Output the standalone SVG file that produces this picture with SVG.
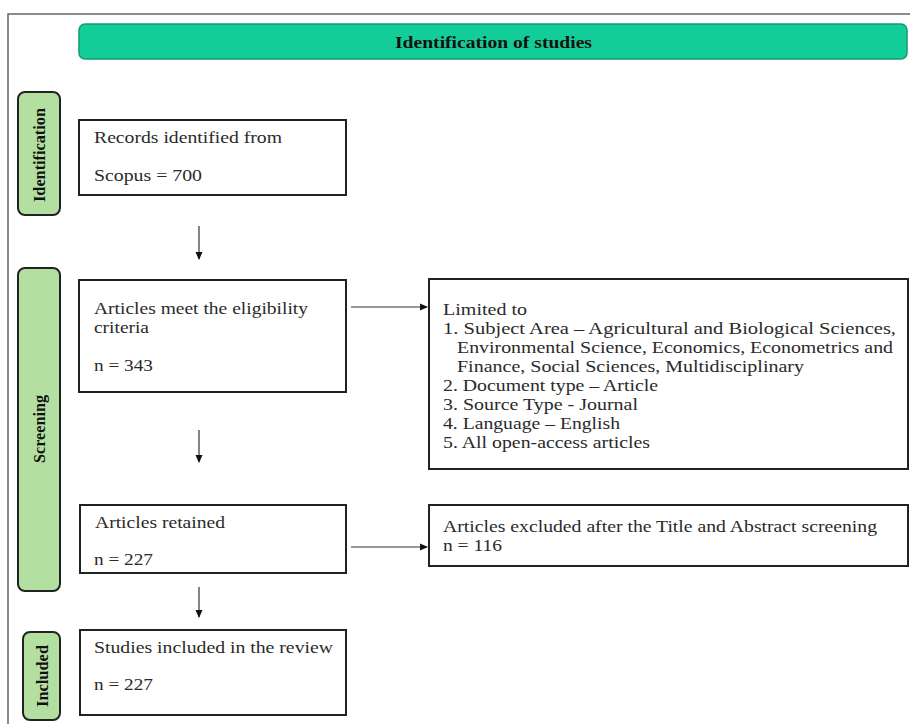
<svg xmlns="http://www.w3.org/2000/svg" width="910" height="724" viewBox="0 0 910 724">
<defs>
<marker id="ah" markerWidth="8" markerHeight="8" refX="7" refY="4" orient="auto" markerUnits="userSpaceOnUse">
<path d="M0,0.5 L8,4 L0,7.5 Z" fill="#111"/>
</marker>
<style>
.box{fill:#fff;stroke:#222;stroke-width:2}
.side{fill:#b3e0a0;stroke:#222;stroke-width:2}
.t{font-family:"Liberation Serif","Times New Roman",serif;font-size:17px;fill:#2a2a2a}
.s{font-family:"Liberation Serif","Times New Roman",serif;font-size:16px;font-weight:bold;fill:#111}
.c{stroke:#333;stroke-width:1.2;fill:none;marker-end:url(#ah)}
</style>
</defs>
<rect width="910" height="724" fill="#fff"/>
<path d="M8,724 V14 H910" fill="none" stroke="#666" stroke-width="1.5"/>
<g id="title">
<rect x="79" y="24" width="828" height="35" rx="6" fill="#13cd99" stroke="#0e9c74" stroke-width="1.5"/>
<text class="s" x="395" y="48" textLength="197" lengthAdjust="spacingAndGlyphs">Identification of studies</text>
</g>
<g id="side-identification">
<rect class="side" x="18" y="92" width="42" height="123" rx="7"/>
<text class="s" transform="translate(45,155) rotate(-90)" text-anchor="middle" textLength="94" lengthAdjust="spacingAndGlyphs">Identification</text>
</g>
<g id="side-screening">
<rect class="side" x="18" y="268" width="42" height="323" rx="7"/>
<text class="s" transform="translate(45,429) rotate(-90)" text-anchor="middle" textLength="68" lengthAdjust="spacingAndGlyphs">Screening</text>
</g>
<g id="side-included">
<rect class="side" x="23" y="632" width="37" height="88" rx="7"/>
<text class="s" transform="translate(48,676) rotate(-90)" text-anchor="middle" textLength="62" lengthAdjust="spacingAndGlyphs">Included</text>
</g>
<g id="records">
<rect class="box" x="79" y="120" width="267" height="75"/>
<text class="t" x="94" y="143" textLength="188" lengthAdjust="spacingAndGlyphs">Records identified from</text>
<text class="t" x="94" y="181" textLength="108" lengthAdjust="spacingAndGlyphs">Scopus = 700</text>
</g>
<g id="eligible">
<rect class="box" x="79" y="280" width="267" height="112"/>
<text class="t" x="94" y="314" textLength="214" lengthAdjust="spacingAndGlyphs">Articles meet the eligibility</text>
<text class="t" x="94" y="333" textLength="55" lengthAdjust="spacingAndGlyphs">criteria</text>
<text class="t" x="94" y="371" textLength="59" lengthAdjust="spacingAndGlyphs">n = 343</text>
</g>
<g id="limited">
<rect class="box" x="429" y="279" width="479" height="190"/>
<text class="t" x="443" y="315" textLength="84" lengthAdjust="spacingAndGlyphs">Limited to</text>
<text class="t" x="443" y="334" textLength="453" lengthAdjust="spacingAndGlyphs">1. Subject Area – Agricultural and Biological Sciences,</text>
<text class="t" x="457" y="353" textLength="436" lengthAdjust="spacingAndGlyphs">Environmental Science, Economics, Econometrics and</text>
<text class="t" x="457" y="372" textLength="347" lengthAdjust="spacingAndGlyphs">Finance, Social Sciences, Multidisciplinary</text>
<text class="t" x="443" y="391" textLength="215" lengthAdjust="spacingAndGlyphs">2. Document type – Article</text>
<text class="t" x="443" y="410" textLength="195" lengthAdjust="spacingAndGlyphs">3. Source Type - Journal</text>
<text class="t" x="443" y="429" textLength="177" lengthAdjust="spacingAndGlyphs">4. Language – English</text>
<text class="t" x="443" y="448" textLength="207" lengthAdjust="spacingAndGlyphs">5. All open-access articles</text>
</g>
<g id="retained">
<rect class="box" x="80" y="505" width="266" height="68"/>
<text class="t" x="95" y="528" textLength="130" lengthAdjust="spacingAndGlyphs">Articles retained</text>
<text class="t" x="94" y="565" textLength="59" lengthAdjust="spacingAndGlyphs">n = 227</text>
</g>
<g id="excluded">
<rect class="box" x="429" y="505" width="479" height="61"/>
<text class="t" x="443" y="532" textLength="434" lengthAdjust="spacingAndGlyphs">Articles excluded after the Title and Abstract screening</text>
<text class="t" x="443" y="551" textLength="59" lengthAdjust="spacingAndGlyphs">n = 116</text>
</g>
<g id="included">
<rect class="box" x="80" y="630" width="266" height="85"/>
<text class="t" x="94" y="653" textLength="239" lengthAdjust="spacingAndGlyphs">Studies included in the review</text>
<text class="t" x="94" y="690" textLength="59" lengthAdjust="spacingAndGlyphs">n = 227</text>
</g>
<g id="connectors">
<line class="c" x1="199" y1="226" x2="199" y2="259"/>
<line class="c" x1="351" y1="307" x2="427" y2="307"/>
<line class="c" x1="199" y1="430" x2="199" y2="462"/>
<line class="c" x1="351" y1="547" x2="427" y2="547"/>
<line class="c" x1="199" y1="587" x2="199" y2="617"/>
</g>
</svg>
